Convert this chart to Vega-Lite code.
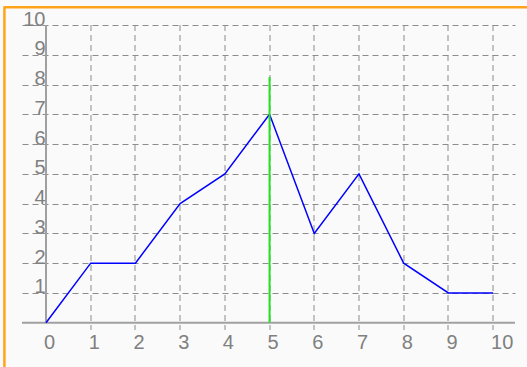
{
  "$schema": "https://vega.github.io/schema/vega-lite/v6.json",
  "width": 493,
  "height": 305,
  "padding": {"left": 22, "top": 25, "right": 12, "bottom": 37},
  "autosize": {"type": "none"},
  "background": "#fafafa",
  "config": {"view": {"stroke": null}},
  "encoding": {
    "x": {"field": "x", "type": "quantitative", "title": null, "scale": {"domain": [-0.537, 10.49], "nice": false, "zero": false},
      "axis": {"values": [0,1,2,3,4,5,6,7,8,9,10], "title": null, "zindex": 0, "translate": 0, "grid": true, "gridDash": [6,4], "gridColor": "#8c8c8c", "gridWidth": 1,
        "gridOpacity": {"condition": {"test": "datum.value == 0", "value": 0}, "value": 1},
        "ticks": false, "domain": false, "labelAlign": "left", "labelBaseline": "top", "labelPadding": 3, "labelOffset": -2,
        "labelFont": "Liberation Sans", "labelFontSize": 20, "labelColor": "#808080", "labelFlush": false, "labelOverlap": false}},
    "y": {"field": "y", "type": "quantitative", "title": null, "scale": {"domain": [-0.245, 10], "nice": false, "zero": false},
      "axis": {"values": [1,2,3,4,5,6,7,8,9,10], "title": null, "zindex": 0, "grid": true, "gridDash": [6,4], "gridColor": "#8c8c8c", "gridWidth": 1,
        "ticks": false, "domain": false, "labelAlign": "right", "labelBaseline": "alphabetic", "labelPadding": -23,
        "labelFont": "Liberation Sans", "labelFontSize": 20, "labelColor": "#808080", "labelFlush": false, "labelOverlap": false}}
  },
  "layer": [
    {
      "data": {"values": [
        {"kind": "xaxis", "x": -0.537, "x2": 10.49, "y": 0, "y2": 0},
        {"kind": "yaxis", "x": 0, "x2": 0, "y": 0, "y2": 10}
      ]},
      "mark": {"type": "rule", "color": "#a0a0a0", "strokeWidth": 2},
      "encoding": {
        "x2": {"field": "x2"},
        "y2": {"field": "y2"}
      }
    },
    {
      "data": {"values": [
        {"x": 0, "y": 0}, {"x": 1, "y": 2}, {"x": 2, "y": 2}, {"x": 3, "y": 4}, {"x": 4, "y": 5},
        {"x": 5, "y": 7}, {"x": 6, "y": 3}, {"x": 7, "y": 5}, {"x": 8, "y": 2}, {"x": 9, "y": 1}, {"x": 10, "y": 1}
      ]},
      "mark": {"type": "line", "color": "#0000ff", "strokeWidth": 1.5},
      "encoding": {}
    },
    {
      "data": {"values": [{"x": 5, "x2": 5, "y": 0, "y2": 8.25}]},
      "mark": {"type": "rule", "color": "#22e022", "strokeWidth": 2},
      "encoding": {
        "x2": {"field": "x2"},
        "y2": {"field": "y2"}
      }
    },
    {
      "data": {"values": [
        {"side": "top", "x": -0.93, "x2": 10.9, "y": 10.6, "y2": 10.6},
        {"side": "left", "x": -0.93, "x2": -0.93, "y": 10.63, "y2": -1.7}
      ]},
      "mark": {"type": "rule", "color": "#ffa31a", "strokeWidth": 2.5},
      "encoding": {
        "x2": {"field": "x2"},
        "y2": {"field": "y2"}
      }
    }
  ]
}
